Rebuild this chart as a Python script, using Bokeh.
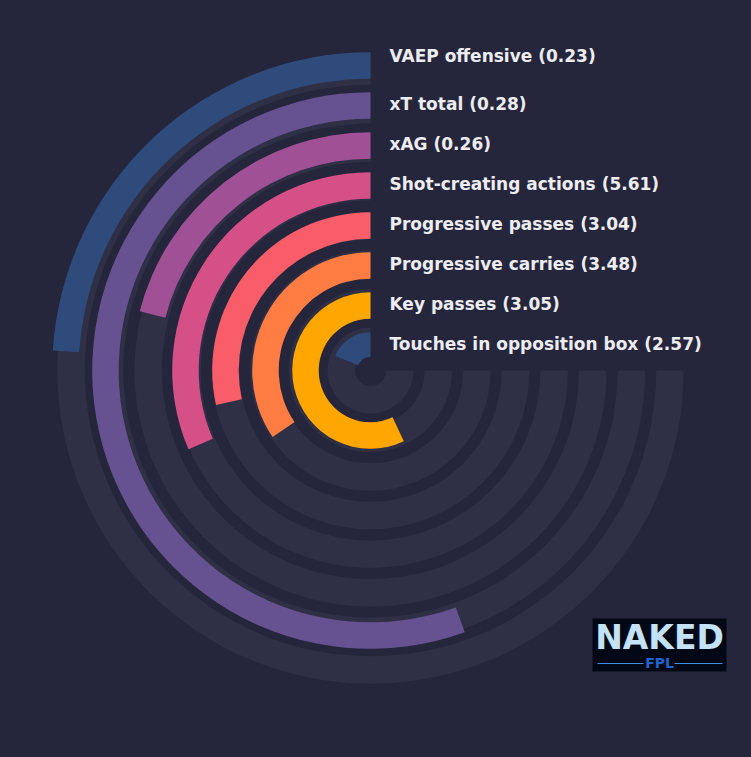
import numpy as np
from bokeh.plotting import figure
from bokeh.models import ColumnDataSource
from bokeh.core.properties import value
from bokeh.embed import file_html
from bokeh.resources import INLINE

# ---- data (innermost ring first) ----
metrics = ["Touches in opposition box", "Key passes", "Progressive carries",
           "Progressive passes", "Shot-creating actions", "xAG", "xT total",
           "VAEP offensive"]
per90 = ["2.57", "3.05", "3.48", "3.04", "5.61", "0.26", "0.28", "0.23"]
percentile = [25, 76, 46, 38, 42, 28, 74, 32]
colors = ["#2f4b7c", "#ffa600", "#ff7c43", "#f95d6a", "#d45087", "#a05195",
          "#665191", "#2f4b7c"]

BG = "#25263b"
TRACK = "#2f2f45"
TEXT = "#ececf1"

W, H = 735, 741
CX, CY = 370, 370  # centre in figure pixels

n = len(metrics)
idx = np.arange(n)
track_outer = 43.0 + 38.6 * idx
track_inner = track_outer - 27.5
bar_outer = 38.3 + 40.0 * idx
bar_inner = bar_outer - 26.5

start = np.full(n, np.pi / 2)
bar_end = np.pi / 2 + np.array(percentile) / 100.0 * 1.5 * np.pi
track_end = np.full(n, 2 * np.pi)

p = figure(width=W, height=H, output_backend="svg", toolbar_location=None,
           x_range=(-CX, W - CX), y_range=(-(H - CY), CY),
           x_axis_location=None, y_axis_location=None, min_border=0,
           background_fill_color=BG, border_fill_color=BG, outline_line_color=None)
p.grid.visible = False

tracks = ColumnDataSource(dict(x=np.zeros(n), y=np.zeros(n), ir=track_inner, orr=track_outer,
                               s=start, e=track_end))
p.annular_wedge(x="x", y="y", inner_radius="ir", outer_radius="orr", start_angle="s",
                end_angle="e", direction="anticlock", source=tracks,
                fill_color=TRACK, line_color=None)

bars = ColumnDataSource(dict(x=np.zeros(n), y=np.zeros(n), ir=bar_inner, orr=bar_outer,
                             s=start, e=bar_end, c=colors))
p.annular_wedge(x="x", y="y", inner_radius="ir", outer_radius="orr", start_angle="s",
                end_angle="e", direction="anticlock", source=bars,
                fill_color="c", line_color=None)

# centre hole
p.circle(x=[0], y=[0], radius=13.5, fill_color=BG, line_color=None)

# labels
label_y = 26.7 + 40.0 * idx
label_y[-1] += 8.3
labels = [f"{m} ({v})" for m, v in zip(metrics, per90)]
p.text(x=np.full(n, 19.0), y=label_y, text=labels, text_font=value("DejaVu Sans"),
       text_font_style="bold", text_font_size="17px", text_baseline="middle",
       text_align="left", text_color=TEXT)

# logo (page px -> data)
def dx(px):
    return px - CX
def dy(py):
    return CY - py

p.rect(x=[dx(659)], y=[dy(644.5)], width=134, height=53, fill_color="#030817", line_color=None)
p.text(x=[dx(659)], y=[dy(637)], text=["NAKED"], text_font=value("DejaVu Sans"),
       text_font_style="bold", text_font_size="33px", text_baseline="middle",
       text_align="center", text_color="#c4e2f6")
p.text(x=[dx(659)], y=[dy(662)], text=["FPL"], text_font=value("DejaVu Sans"),
       text_font_style="bold", text_font_size="14px", text_baseline="middle",
       text_align="center", text_color="#1f65cf")
p.segment(x0=[dx(597), dx(674)], y0=[dy(663), dy(663)], x1=[dx(643), dx(722)],
          y1=[dy(663), dy(663)], line_color="#3b8fe0", line_width=1)

html = file_html(p, INLINE)
html = html.replace("</head>", "<style>html,body{background:%s;}</style></head>" % BG, 1)
open("out.html", "w").write(html)
